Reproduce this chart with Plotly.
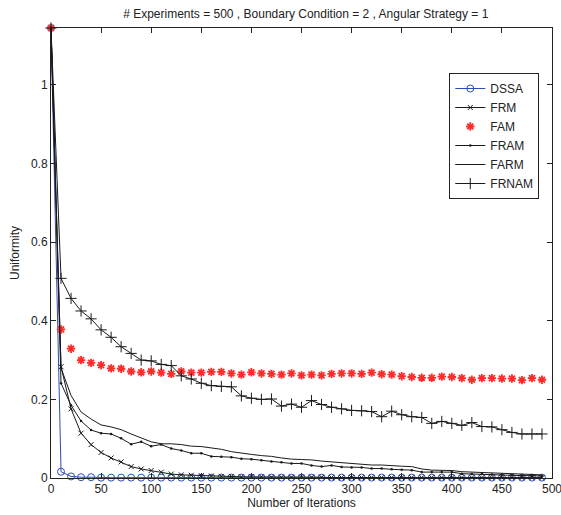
import plotly.graph_objects as go

iterations = list(range(0, 500, 10))

dssa = [1.145, 0.016, 0.004, 0.002, 0.002, 0.001, 0.001, 0.001, 0.001, 0.001,
        0.001, 0.001, 0.001, 0.001, 0.001, 0.001, 0.001, 0.001, 0.001, 0.001,
        0.001, 0.001, 0.001, 0.001, 0.001, 0.001, 0.001, 0.001, 0.001, 0.001,
        0.001, 0.001, 0.001, 0.001, 0.001, 0.001, 0.001, 0.001, 0.001, 0.001,
        0.001, 0.001, 0.001, 0.001, 0.001, 0.001, 0.001, 0.001, 0.001, 0.001]

frm = [1.145, 0.283, 0.176, 0.114, 0.085, 0.065, 0.051, 0.041, 0.029, 0.023,
       0.019, 0.015, 0.010, 0.008, 0.007, 0.006, 0.005, 0.004, 0.004, 0.003,
       0.003, 0.003, 0.002, 0.002, 0.002, 0.002, 0.002, 0.002, 0.001, 0.001,
       0.001, 0.001, 0.001, 0.001, 0.001, 0.001, 0.001, 0.001, 0.001, 0.001,
       0.001, 0.001, 0.001, 0.001, 0.001, 0.001, 0.001, 0.001, 0.001, 0.001]

fam = [1.145, 0.378, 0.329, 0.300, 0.293, 0.287, 0.279, 0.278, 0.271, 0.269,
       0.271, 0.268, 0.265, 0.271, 0.268, 0.268, 0.270, 0.270,
       0.266, 0.263, 0.269, 0.266, 0.265, 0.263, 0.266, 0.261, 0.263, 0.261,
       0.265, 0.266, 0.266, 0.265, 0.268, 0.264, 0.263, 0.259, 0.257, 0.255,
       0.255, 0.258, 0.257, 0.254, 0.250, 0.254, 0.254, 0.253, 0.253, 0.249,
       0.254, 0.250]

fram = [1.145, 0.241, 0.185, 0.145, 0.122, 0.114, 0.112, 0.101, 0.086, 0.092,
        0.081, 0.085, 0.075, 0.070, 0.063, 0.063, 0.055, 0.054, 0.053, 0.049,
        0.048, 0.045, 0.042, 0.040, 0.037, 0.037, 0.032, 0.029, 0.032, 0.028,
        0.027, 0.027, 0.024, 0.024, 0.022, 0.021, 0.020, 0.015, 0.015, 0.015,
        0.015, 0.011, 0.010, 0.010, 0.009, 0.008, 0.007, 0.006, 0.006, 0.005]

farm = [1.145, 0.280, 0.210, 0.168, 0.150, 0.135, 0.130, 0.123, 0.112, 0.102,
        0.092, 0.087, 0.087, 0.085, 0.081, 0.080, 0.076, 0.073, 0.067, 0.063,
        0.060, 0.057, 0.055, 0.051, 0.048, 0.047, 0.046, 0.043, 0.041, 0.038,
        0.036, 0.035, 0.033, 0.033, 0.031, 0.030, 0.029, 0.023, 0.020, 0.020,
        0.019, 0.016, 0.015, 0.014, 0.013, 0.011, 0.010, 0.009, 0.008, 0.008]

frnam = [1.145, 0.508, 0.457, 0.425, 0.405, 0.377, 0.358, 0.334, 0.317, 0.300,
         0.298, 0.289, 0.286, 0.260, 0.252, 0.241, 0.235, 0.233,
         0.232, 0.209, 0.203, 0.200, 0.201, 0.183, 0.188, 0.180, 0.197, 0.187,
         0.180, 0.176, 0.172, 0.171, 0.169, 0.156, 0.170, 0.161, 0.156, 0.154,
         0.139, 0.144, 0.139, 0.134, 0.141, 0.131, 0.130, 0.123, 0.116, 0.112,
         0.112, 0.112]

x_ticks = [0, 50, 100, 150, 200, 250, 300, 350, 400, 450, 500]
y_ticks = [0, 0.2, 0.4, 0.6, 0.8, 1]
y_tick_labels = ["0", "0.2", "0.4", "0.6", "0.8", "1"]

title_text = "# Experiments = 500 , Boundary Condition = 2 , Angular Strategy = 1"

blue = "#2b4db5"
black = "#1a1a1a"
red = "#ff2a2a"
FONT = "Liberation Sans, Arial"

fig = go.Figure()
fig.add_trace(go.Scatter(x=iterations, y=dssa, name="DSSA", mode="lines+markers",
                         line=dict(color=blue, width=1),
                         marker=dict(symbol="circle-open", size=7, color=blue, line=dict(width=1)),
                         cliponaxis=False))
fig.add_trace(go.Scatter(x=iterations, y=frm, name="FRM", mode="lines+markers",
                         line=dict(color=black, width=1),
                         marker=dict(symbol="x-thin-open", size=5, color=black, line=dict(width=1, color=black)),
                         cliponaxis=False))
fig.add_trace(go.Scatter(x=iterations, y=fam, name="FAM", mode="markers",
                         marker=dict(symbol="asterisk-open", size=7, color=red, line=dict(width=1.8, color=red)),
                         cliponaxis=False))
fig.add_trace(go.Scatter(x=iterations, y=fram, name="FRAM", mode="lines+markers",
                         line=dict(color=black, width=1),
                         marker=dict(symbol="circle", size=2.5, color=black),
                         cliponaxis=False))
fig.add_trace(go.Scatter(x=iterations, y=farm, name="FARM", mode="lines",
                         line=dict(color=black, width=1),
                         cliponaxis=False))
fig.add_trace(go.Scatter(x=iterations, y=frnam, name="FRNAM", mode="lines+markers",
                         line=dict(color=black, width=1),
                         marker=dict(symbol="cross-thin-open", size=8, color=black, line=dict(width=1, color=black)),
                         cliponaxis=False))

axis_common = dict(showline=True, linecolor="#222", linewidth=1, mirror="ticks",
                   ticks="inside", ticklen=5, tickcolor="#222", showgrid=False,
                   zeroline=False, automargin=False, ticklabeloverflow="allow",
                   tickfont=dict(family=FONT, size=12, color="#222"))

fig.update_layout(
    width=561, height=515,
    margin=dict(l=51, r=9, t=28, b=37),
    paper_bgcolor="white", plot_bgcolor="white",
    font=dict(family=FONT, size=12, color="#222"),
    title=dict(text=title_text, x=0.545, xanchor="center", y=0.973, yanchor="middle",
               font=dict(size=12, color="#222")),
    showlegend=True,
    legend=dict(x=0.795, y=0.900, xanchor="left", yanchor="top",
                bordercolor="#222", borderwidth=1, bgcolor="white",
                font=dict(size=12, color="#222"), tracegroupgap=0,
                itemwidth=30),
)
fig.update_xaxes(range=[0, 500], tickvals=x_ticks, **axis_common,
                 title=dict(text="Number of Iterations", standoff=2, font=dict(size=12)))
fig.update_yaxes(range=[0, 1.145], tickvals=y_ticks, ticktext=y_tick_labels, **axis_common,
                 title=dict(text="Uniformity", standoff=8, font=dict(size=12)))

fig.write_html("out.html", config={"displayModeBar": False},
               post_script="document.body.style.margin='0';document.body.style.overflow='hidden';")
